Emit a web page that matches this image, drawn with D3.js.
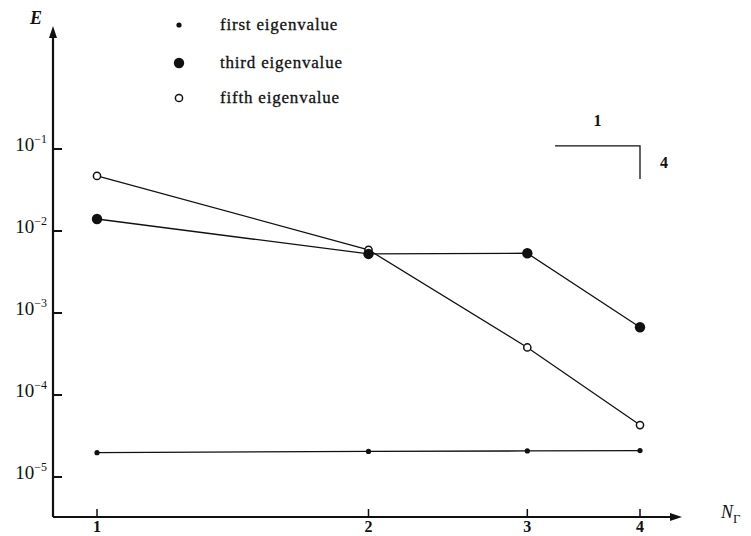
<!DOCTYPE html>
<html>
<head>
<meta charset="utf-8">
<script src="https://cdn.jsdelivr.net/npm/d3@7"></script>
<style>
  body { margin: 0; background: #fff; }
  svg { display: block; }
  text { font-family: "Liberation Serif", "DejaVu Serif", serif; fill: #111; }
</style>
</head>
<body>
<div id="chart"></div>
<script>
// values (log-log plot)
const nGamma = [1, 2, 3, 4];
const firstEig = [1.98e-5, 2.05e-5, 2.08e-5, 2.1e-5];
const thirdEig = [1.4e-2, 5.25e-3, 5.35e-3, 6.7e-4];
const fifthEig = [4.7e-2, 5.9e-3, 3.8e-4, 4.3e-5];
const seriesNames = ["first eigenvalue", "third eigenvalue", "fifth eigenvalue"];
const yTickExps = [-1, -2, -3, -4, -5];
const xTicks = [1, 2, 3, 4];
// slope indicator: run 1, rise 4 (in N and E units)
const slopeRun = [3.22, 4];
const slopeRise = [0.109, 0.043];
const slopeLabels = ["1", "4"];

let width = 751;
let height = 536;

let svg = d3.select("#chart").append("svg")
    .attr("width", width)
    .attr("height", height);

const x = d3.scaleLog().domain([1, 4]).range([97, 640]);
const y = d3.scaleLog().domain([1e-5, 1e-1]).range([477, 149]);

const axisX0 = 53, axisY0 = 517;

// axes lines with arrow heads
svg.append("line")
    .attr("x1", axisX0).attr("y1", axisY0)
    .attr("x2", axisX0).attr("y2", 34)
    .attr("stroke", "#111").attr("stroke-width", 2.2);
svg.append("path")
    .attr("d", `M${axisX0},26 L${axisX0 - 4},38 L${axisX0 + 4},38 Z`)
    .attr("fill", "#111");
svg.append("line")
    .attr("x1", axisX0).attr("y1", axisY0)
    .attr("x2", 674).attr("y2", axisY0)
    .attr("stroke", "#111").attr("stroke-width", 2.2);
svg.append("path")
    .attr("d", `M682,${axisY0} L670,${axisY0 - 4} L670,${axisY0 + 4} Z`)
    .attr("fill", "#111");

// y ticks (inward)
svg.append("g").selectAll("line")
    .data(yTickExps)
    .join("line")
    .attr("x1", axisX0).attr("x2", axisX0 + 9)
    .attr("y1", d => y(Math.pow(10, d))).attr("y2", d => y(Math.pow(10, d)))
    .attr("stroke", "#111").attr("stroke-width", 2);

let yLab = svg.append("g").selectAll("text")
    .data(yTickExps)
    .join("text")
    .attr("x", 47)
    .attr("y", d => y(Math.pow(10, d)) + 2)
    .attr("text-anchor", "end")
    .style("font-size", "19px");
yLab.append("tspan").text("10");
yLab.append("tspan")
    .attr("dy", -8)
    .style("font-size", "12px")
    .text(d => "\u2212" + Math.abs(d));

// x ticks (inward)
svg.append("g").selectAll("line")
    .data(xTicks)
    .join("line")
    .attr("x1", d => x(d)).attr("x2", d => x(d))
    .attr("y1", axisY0).attr("y2", axisY0 - 8)
    .attr("stroke", "#111").attr("stroke-width", 1.5);

svg.append("g").selectAll("text")
    .data(xTicks)
    .join("text")
    .attr("x", d => x(d))
    .attr("y", 532)
    .attr("text-anchor", "middle")
    .style("font-size", "16px")
    .style("font-weight", "bold")
    .text(d => d);

// axis titles
svg.append("text")
    .attr("x", 30).attr("y", 24)
    .style("font-size", "18px")
    .style("font-style", "italic")
    .style("font-weight", "bold")
    .text("E");

let nt = svg.append("text")
    .attr("x", 721).attr("y", 518)
    .style("font-size", "18px")
    .style("font-style", "italic");
nt.append("tspan").text("N");
nt.append("tspan")
    .attr("dy", 5)
    .style("font-size", "13px")
    .style("font-style", "normal")
    .text("\u0393");

// lines
const line = d3.line()
    .x((d, i) => x(nGamma[i]))
    .y(d => y(d));

[firstEig, thirdEig, fifthEig].forEach(s => {
    svg.append("path")
        .datum(s)
        .attr("d", line)
        .attr("fill", "none")
        .attr("stroke", "#111")
        .attr("stroke-width", 1.3);
});

// markers
const markerStyle = [
    { r: 2.6, fill: "#111", stroke: "none", sw: 0 },
    { r: 5.2, fill: "#111", stroke: "none", sw: 0 },
    { r: 3.6, fill: "#fff", stroke: "#111", sw: 1.5 }
];

const drawMarkers = (data, st) => {
    svg.append("g").selectAll("circle")
        .data(data)
        .join("circle")
        .attr("cx", (d, i) => x(nGamma[i]))
        .attr("cy", d => y(d))
        .attr("r", st.r)
        .attr("fill", st.fill)
        .attr("stroke", st.stroke)
        .attr("stroke-width", st.sw);
}
drawMarkers(firstEig, markerStyle[0]);
drawMarkers(fifthEig, markerStyle[2]);
drawMarkers(thirdEig, markerStyle[1]);

// legend
let legend = svg.append("g").selectAll("g")
    .data(seriesNames)
    .join("g")
    .attr("transform", (d, i) => `translate(179, ${[25, 63, 98][i]})`);
legend.append("circle")
    .attr("r", (d, i) => markerStyle[i].r)
    .attr("fill", (d, i) => markerStyle[i].fill)
    .attr("stroke", (d, i) => markerStyle[i].stroke)
    .attr("stroke-width", (d, i) => markerStyle[i].sw);
legend.append("text")
    .attr("x", 41).attr("y", 5)
    .style("font-size", "17px")
    .style("letter-spacing", "0.8px")
    .style("stroke", "#111")
    .style("stroke-width", "0.3px")
    .text(d => d);

// slope triangle
svg.append("path")
    .attr("d", `M${x(slopeRun[0])},${y(slopeRise[0])} L${x(slopeRun[1])},${y(slopeRise[0])} L${x(slopeRun[1])},${y(slopeRise[1])}`)
    .attr("fill", "none")
    .attr("stroke", "#111")
    .attr("stroke-width", 1.3);
svg.append("text")
    .attr("x", (x(slopeRun[0]) + x(slopeRun[1])) / 2)
    .attr("y", y(slopeRise[0]) - 20)
    .attr("text-anchor", "middle")
    .style("font-size", "16px")
    .style("font-weight", "bold")
    .text(slopeLabels[0]);
svg.append("text")
    .attr("x", x(slopeRun[1]) + 24)
    .attr("y", (y(slopeRise[0]) + y(slopeRise[1])) / 2 + 6)
    .attr("text-anchor", "middle")
    .style("font-size", "16px")
    .style("font-weight", "bold")
    .text(slopeLabels[1]);
</script>
</body>
</html>
